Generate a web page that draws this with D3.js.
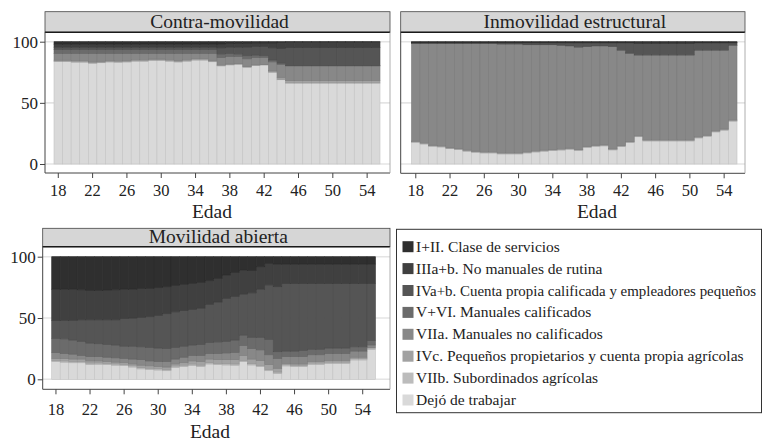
<!DOCTYPE html>
<html><head><meta charset="utf-8">
<script src="https://cdn.jsdelivr.net/npm/d3@7"></script>
<style>
body{margin:0;background:#fff}
svg{display:block}
svg text{font-family:"Liberation Serif","Times New Roman",Tinos,"DejaVu Serif",serif;fill:#222}
</style>
</head><body><svg id="c" width="762" height="441"></svg>
<script>
// ---------- DATA ----------
const ages = [18,19,20,21,22,23,24,25,26,27,28,29,30,31,32,33,34,35,36,37,38,39,40,41,42,43,44,45,46,47,48,49,50,51,52,53,54,55];
const xTickLabels = [18,22,26,30,34,38,42,46,50,54];
const yTickLabels = [0,50,100];
const classLabels = [
  "I+II. Clase de servicios",
  "IIIa+b. No manuales de rutina",
  "IVa+b. Cuenta propia calificada y empleadores pequeños",
  "V+VI. Manuales calificados",
  "VIIa. Manuales no calificados",
  "IVc. Pequeños propietarios y cuenta propia agrícolas",
  "VIIb. Subordinados agrícolas",
  "Dejó de trabajar"
];
const panelTitles = ["Contra-movilidad","Inmovilidad estructural","Movilidad abierta"];
const axisTitle = "Edad";

// Contra-movilidad (%)
const contra_I_II   = [2,2,2,2,2,2,2,2,2,2,2,2,2,2,2,2,2,2,2,2,1.5,1.5,1.5,1,1,1,0.5,0.3,0.3,0.3,0.3,0.3,0.3,0.3,0.3,0.3,0.3,0.3];
const contra_IIIab  = [2.5,2.5,2.5,2.5,2.5,2.5,2.5,2.5,2.5,2.5,2.5,2.5,2.5,2.5,2.5,2.5,2.5,2.5,2.5,3,3,3,3,3,3,4,5,4.6,4.6,4.6,4.6,4.6,4.6,4.6,4.6,4.6,4.6,4.6];
const contra_IVab   = [2,2,2,2,2,2,2,2,2,2,2,2,2,2,2,2,2,2,2,5,5,5.5,7,7,7.5,10,12,14.4,14.4,14.4,14.4,14.4,14.4,14.4,14.4,14.4,14.4,14.4];
const contra_VVI    = [3,3,3,3,3,3,3,3,3,3,3,3,3,3,3,3,3,3,3,3,2.5,2,2.5,2,1.5,1.5,1,0.5,0.5,0.5,0.5,0.5,0.5,0.5,0.5,0.5,0.5,0.5];
const contra_VIIa   = [5.6,5.6,6.1,6.1,7,6.5,5.9,6.2,5.9,5.3,5.3,4.7,4.7,5.3,5.9,5.3,4.4,4.4,5.7,6,6.2,5.7,6.1,5.8,5.7,7.4,10.6,12,12,12,12,12,12,12,12,12,12,12];
const contra_IVc    = [0.7,0.7,0.7,0.7,0.7,0.7,0.7,0.7,0.7,0.7,0.7,0.7,0.7,0.7,0.7,0.7,0.7,0.7,0.7,0.5,0.5,0.5,0.5,0.5,0.3,1,1.5,2,2,2,2,2,2,2,2,2,2,2];
const contra_VIIb   = [0.5,0.5,0.5,0.5,0.5,0.5,0.5,0.5,0.5,0.5,0.5,0.5,0.5,0.5,0.5,0.5,0.5,0.5,0.5,0.3,0.3,0.3,0.3,0.3,0,0,0.5,0,0,0,0,0,0,0,0,0,0,0];
const contra_Dejo   = [83.7,83.7,83.2,83.2,82.3,82.8,83.4,83.1,83.4,84,84,84.6,84.6,84,83.4,84,84.9,84.9,83.6,80.2,81,81.5,79.1,80.4,81,75.1,68.9,66.2,66.2,66.2,66.2,66.2,66.2,66.2,66.2,66.2,66.2,66.2];

// Inmovilidad estructural (%)
const inmov_I_II    = [0.5,0.5,0.5,0.5,0.5,0.5,0.5,0.5,0.5,0.5,0.5,0.5,0.5,0.5,0.5,0.5,0.5,0.5,0.5,0.5,0.5,0.5,0.5,0.5,0.5,0.5,1,1,1,1,1,1,1,0.5,0.5,0.5,0.5,0.5];
const inmov_IIIab   = [0.5,0.5,0.5,0.5,0.5,0.5,0.5,0.5,0.5,0.5,0.5,0.5,0.5,0.5,0.5,0.5,0.5,0.5,0.5,0.5,0.5,0.5,0.5,0.5,0.5,0.5,0.5,0.5,0.5,0.5,0.5,0.5,0.5,0.5,0.5,0.5,0.5,0.5];
const inmov_IVab    = [0.2,0.2,0.2,0.2,0.2,0.2,0.2,0.2,0.2,0.2,0.7,0.7,0.7,1.2,1.2,1.2,1.2,1.7,2.2,3.2,2.7,2.2,2.2,2.7,5.7,8.2,9.2,9.2,9.2,9.2,9.2,9.2,9.2,5.7,5.7,5.7,5.7,1.7];
const inmov_VVI     = [0.3,0.3,0.3,0.3,0.3,0.3,0.3,0.3,0.3,0.3,0.3,0.3,0.3,0.3,0.3,0.3,0.3,0.3,0.3,0.3,0.3,0.3,0.3,0.3,0.3,0.3,0.3,0.3,0.3,0.3,0.3,0.3,0.3,0.3,0.3,0.3,0.3,0.3];
const inmov_VIIa    = [79.8,81.2,83.1,83.6,85,85.8,87.1,88,88.5,88.5,88.8,88.8,88.8,87.5,86.7,86.1,85.6,84.6,83.5,83.5,81.5,81.1,80.7,83.5,77.8,72,65.7,69.2,69.2,69.2,69.2,69.2,69.2,70.7,69.4,65.8,64.4,61];
const inmov_IVc     = [0.5,0.5,0.5,0.5,0.5,0.5,0.5,0.5,0.5,0.5,0.5,0.5,0.5,0.5,0.5,0.5,0.5,0.5,0.5,0.5,0.5,0.5,0.5,0.5,0.5,0.5,0.5,0.5,0.5,0.5,0.5,0.5,0.5,0.5,0.5,0.5,0.5,0.5];
const inmov_VIIb    = [0.5,0.5,0.5,0.5,0.5,0.5,0.5,0.5,0.5,0.5,0.5,0.5,0.5,0.5,0.5,0.5,0.5,0.5,0.5,0.5,0.5,0.5,0.5,0.5,0.5,0.5,0.5,0.5,0.5,0.5,0.5,0.5,0.5,0.5,0.5,0.5,0.5,0.5];
const inmov_Dejo    = [17.7,16.3,14.4,13.9,12.5,11.7,10.4,9.5,9,9,8.2,8.2,8.2,9,9.8,10.4,10.9,11.4,12,11,13.5,14.4,14.8,11.5,14.2,17.5,22.3,18.8,18.8,18.8,18.8,18.8,18.8,21.3,22.6,26.2,27.6,35];

// Movilidad abierta (%)
const abierta_I_II  = [26.5,26.5,26.5,27,27.7,27.5,27.2,27,26.5,26.5,26,25.8,25.3,24.5,23.4,22.6,21.7,21,19.6,17.7,15,13,11,11.4,8.2,5.5,6,6,6,6,6,6,6,6,6,6,6,6];
const abierta_IIIab = [25.7,25.5,25.5,24.5,23.8,24,24.3,24.5,24,23.5,23.5,23.2,22.7,22,21.6,21.4,21.3,21,19.4,19.3,19,19.5,19.5,18.1,18.3,17.5,18.5,16,16,16,16,16,16,16,16,16,16,16];
const abierta_IVab  = [14.4,15,16,17.5,19,19.5,20,20.5,22.5,23,24,25,26.5,28.5,29,29,29,29.5,31,32.5,35,35.5,33.5,36.2,39.2,44.4,53,55,55,54.5,53.5,53.5,52.5,52.5,52.5,51.5,51.5,46.5];
const abierta_VVI   = [11.7,12,11.5,11.5,11,10.5,10.5,10.5,10,10.5,10.5,11,11,10.5,9.5,9,8.5,9,9,9.5,9.5,10,8.5,9.3,10.3,12.6,5.5,4.5,4.5,5,4.5,4.5,4.5,4.5,4.5,3.5,3.5,3.5];
const abierta_VIIa  = [4.6,4,4,3,3.5,3.5,3.5,3.5,3.5,4,4.5,4,4,4.5,4,4.5,4.5,5,4.5,5,5.5,6,8,8.5,8.5,8,8,5.5,6,6,5.5,5.5,5.5,5.5,5.5,5,5,2];
const abierta_IVc   = [1.7,2,2,2,1.8,1.7,1.5,1.5,1.4,1.5,2,2,1.9,2,1.7,2,2.6,3,3,3,3.3,3.5,4.1,3.8,4.2,4,3.1,1.1,1.2,1.2,1.3,1.3,1.5,1.5,1.5,1.2,1.2,0.5];
const abierta_VIIb  = [1,1,1,1,1,1,1,1,1,1,1,1,1,1,1,1,1,1,1,1,1,1,1,1,1,1,1,1,1,1,1,1,1,1,1,1,1,1];
const abierta_Dejo  = [14.4,14,13.5,13.5,12.2,12.3,12,11.5,11.1,10,8.5,8,7.6,7,9.8,10.5,11.4,10.5,12.5,12,11.7,11.5,14.4,11.7,10.3,7,4.9,10.9,10.3,10.3,12.2,12.2,13,13,13,15.8,15.8,24.5];

// ---------- STYLE ----------
const keys = ["I_II","IIIab","IVab","VVI","VIIa","IVc","VIIb","Dejo"]; // legend order
const fills = {I_II:"#2f2f2f",IIIab:"#404040",IVab:"#555555",VVI:"#6b6b6b",VIIa:"#888888",IVc:"#a2a2a2",VIIb:"#bcbcbc",Dejo:"#d9d9d9"};
const SERIF = "'Liberation Serif','Times New Roman',Tinos,'DejaVu Serif',serif";

function table(arrs){
  return ages.map((a,i)=>{
    const o={age:a};
    keys.forEach((k,j)=>o[k]=arrs[j][i]);
    return o;
  });
}
const panels = [
  {title:panelTitles[0], data:table([contra_I_II,contra_IIIab,contra_IVab,contra_VVI,contra_VIIa,contra_IVc,contra_VIIb,contra_Dejo]),
   fx0:45, fx1:390, hy0:11.7, hy1:32.3, fy1:173, y0:164, y1:41.7, bx0:54, bx1:380, showY:true, edadX:212, tickPad:6, edadDy:44.5},
  {title:panelTitles[1], data:table([inmov_I_II,inmov_IIIab,inmov_IVab,inmov_VVI,inmov_VIIa,inmov_IVc,inmov_VIIb,inmov_Dejo]),
   fx0:400.7, fx1:745, hy0:11.7, hy1:32.3, fy1:173.3, y0:164, y1:41.7, bx0:411.5, bx1:737, showY:false, edadX:597, tickPad:6, edadDy:44.5},
  {title:panelTitles[2], data:table([abierta_I_II,abierta_IIIab,abierta_IVab,abierta_VVI,abierta_VIIa,abierta_IVc,abierta_VIIb,abierta_Dejo]),
   fx0:42.7, fx1:390, hy0:228.3, hy1:246.7, fy1:389.3, y0:379.3, y1:256.7, bx0:51.7, bx1:375.5, showY:true, edadX:210, tickPad:8.5, edadDy:48.5}
];

const svg = d3.select("#c");
const stackKeys = keys.slice().reverse(); // bottom: Dejó de trabajar
const stack = d3.stack().keys(stackKeys).offset(d3.stackOffsetExpand);

panels.forEach(p=>{
  const g = svg.append("g");
  const x = d3.scaleBand().domain(ages).range([p.bx0,p.bx1]).padding(0);
  const y = d3.scaleLinear().domain([0,100]).range([p.y0,p.y1]);

  g.selectAll("line.grid").data(yTickLabels).join("line")
    .attr("x1",p.fx0).attr("x2",p.fx1)
    .attr("y1",d=>y(d)).attr("y2",d=>y(d))
    .attr("stroke","#e4e4e4").attr("stroke-width",1.6);

  const series = stack(p.data);
  g.selectAll("g.s").data(series).join("g")
    .attr("fill",d=>fills[d.key])
    .attr("stroke",d=>d3.color(fills[d.key]).darker(0.3))
    .attr("stroke-width",0.6)
    .selectAll("rect").data(d=>d).join("rect")
      .attr("x",d=>x(d.data.age))
      .attr("width",x.bandwidth())
      .attr("y",d=>y(d[1]*100))
      .attr("height",d=>Math.max(0,y(d[0]*100)-y(d[1]*100)));

  g.append("rect").attr("x",p.fx0).attr("y",p.hy0).attr("width",p.fx1-p.fx0).attr("height",p.hy1-p.hy0)
    .attr("fill","#d6d6d6").attr("stroke","#444").attr("stroke-width",0.8);
  g.append("line").attr("x1",p.fx0).attr("x2",p.fx1).attr("y1",p.hy1).attr("y2",p.hy1)
    .attr("stroke","#1a1a1a").attr("stroke-width",1.4);
  g.append("text").attr("x",(p.fx0+p.fx1)/2+2).attr("y",p.hy1-4)
    .attr("text-anchor","middle").attr("font-family",SERIF).attr("font-size",19.5).text(p.title);

  g.append("line").attr("x1",p.fx0).attr("x2",p.fx0).attr("y1",p.hy1).attr("y2",p.fy1).attr("stroke","#444").attr("stroke-width",1);
  g.append("line").attr("x1",p.fx0).attr("x2",p.fx1).attr("y1",p.fy1).attr("y2",p.fy1).attr("stroke","#444").attr("stroke-width",1);
  g.append("line").attr("x1",p.fx1).attr("x2",p.fx1).attr("y1",p.hy1).attr("y2",p.fy1).attr("stroke","#999").attr("stroke-width",0.8);

  if(p.showY){
    const ya = d3.axisLeft(y).tickValues(yTickLabels).tickSize(5).tickPadding(2);
    const yg = g.append("g").attr("transform",`translate(${p.fx0},0)`).call(ya).attr("font-family",SERIF);
    yg.select(".domain").remove();
    yg.selectAll("line").attr("stroke","#444");
    yg.selectAll("text").attr("font-size",17).attr("fill","#222");
  }

  const xa = d3.axisBottom(x).tickValues(xTickLabels).tickSize(5).tickPadding(p.tickPad);
  const xg = g.append("g").attr("transform",`translate(0,${p.fy1})`).call(xa).attr("font-family",SERIF);
  xg.select(".domain").remove();
  xg.selectAll("line").attr("stroke","#444");
  xg.selectAll("text").attr("font-size",16.5).attr("fill","#222");

  g.append("text").attr("x",p.edadX).attr("y",p.fy1+p.edadDy).attr("text-anchor","middle")
    .attr("font-family",SERIF).attr("font-size",19.5).text(axisTitle);
});

const lg = svg.append("g");
lg.append("rect").attr("x",396.5).attr("y",229.3).attr("width",365).attr("height",183.4)
  .attr("fill","#fff").attr("stroke","#333").attr("stroke-width",1);
const ly = d3.scalePoint().domain(keys).range([246.7,400]);
const items = lg.selectAll("g.li").data(keys).join("g")
  .attr("transform",d=>`translate(0,${ly(d)})`);
items.append("rect").attr("x",402.5).attr("y",-5.5).attr("width",11).attr("height",11)
  .attr("fill",d=>fills[d]);
items.append("text").attr("x",416).attr("y",5).attr("font-family",SERIF).attr("font-size",15.5)
  .text((d,i)=>classLabels[i])
  .each(function(){
    const w = this.getComputedTextLength();
    const maxW = 340;
    if(w>maxW){ d3.select(this).attr("font-size",(15.5*maxW/w).toFixed(2)); }
  });
</script>
</body></html>
